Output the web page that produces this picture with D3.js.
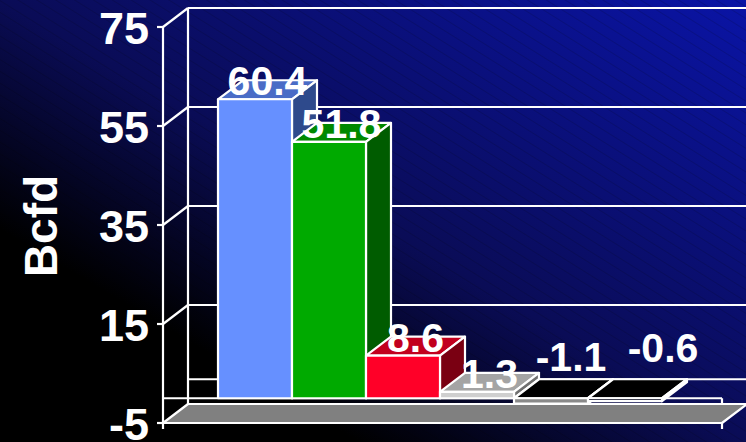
<!DOCTYPE html>
<html><head><meta charset="utf-8">
<script src="https://cdn.jsdelivr.net/npm/d3@7"></script>
<style>html,body{margin:0;padding:0;background:#000;}svg{display:block;}</style>
</head><body>
<script>
// ---- data ----
const categories = ["Series 1", "Series 2", "Series 3", "Series 4", "Series 5", "Series 6"];
const values = [60.4, 51.8, 8.6, 1.3, -1.1, -0.6];
const valueLabels = ["60.4", "51.8", "8.6", "1.3", "-1.1", "-0.6"];
const tickValues = [75, 55, 35, 15, -5];
const tickLabels = ["75", "55", "35", "15", "-5"];
const axisTitle = "Bcfd";

// ---- styles ----
const frontColors = ["#6690FF", "#00AA00", "#FF0028", "#CFCFCF", "#8A8A8A", "#020318"];
const topColors   = ["#4A6CC6", "#008800", "#C2001E", "#A4A4A4", "#000000", "#000000"];
const sideColors  = ["#2E4A8C", "#005C00", "#7A0012", "#707070", "#202020", "#202020"];

const W = 746, H = 442;
const DX = 25, DY = -19;           // 3D depth offset
const X0 = 163, X1 = 722;          // front floor extent
const svg = d3.select("body").append("svg").attr("width", W).attr("height", H);
const defs = svg.append("defs");

const grad = defs.append("linearGradient").attr("id", "bg")
  .attr("gradientUnits", "userSpaceOnUse")
  .attr("x1", 179).attr("y1", 548).attr("x2", 567).attr("y2", -106);
[[0, "#000000"], [0.24, "#000000"], [0.5, "#0a0c56"], [1, "#0a14a6"]]
  .forEach(([o, c]) => grad.append("stop").attr("offset", o).attr("stop-color", c));

const pat = defs.append("pattern").attr("id", "stripes").attr("patternUnits", "userSpaceOnUse")
  .attr("width", 10).attr("height", 10).attr("patternTransform", "rotate(32)");
pat.append("line").attr("x1", 0).attr("y1", 0).attr("x2", 10).attr("y2", 0)
  .attr("stroke", "#000").attr("stroke-opacity", 0.22).attr("stroke-width", 1.2);

svg.append("rect").attr("width", W).attr("height", H).attr("fill", "url(#bg)");
svg.append("rect").attr("width", W).attr("height", H).attr("fill", "url(#stripes)");

const y = d3.scaleLinear().domain([-5, 75]).range([423, 27]);
const x = d3.scaleBand().domain(categories).range([218, 662]).padding(0);
const bw = x.bandwidth();

const g = svg.append("g").attr("fill", "none").attr("stroke", "#fff").attr("stroke-width", 2.2)
  .attr("stroke-linejoin", "round");

// back wall gridlines (ticks + zero plane)
[75, 55, 35, 15, 0].forEach(v => {
  g.append("line").attr("x1", X0 + DX).attr("x2", W + 2)
    .attr("y1", y(v) + DY).attr("y2", y(v) + DY);
});
// side wall diagonals
[75, 55, 35, 15].forEach(v => {
  g.append("line").attr("x1", X0).attr("y1", y(v)).attr("x2", X0 + DX).attr("y2", y(v) + DY);
});
// back vertical
g.append("line").attr("x1", X0 + DX).attr("x2", X0 + DX).attr("y1", y(75) + DY).attr("y2", y(-5) + DY);

// floor slab at minimum
const yF = y(-5);
g.append("polygon")
  .attr("points", [[X0, yF], [X1, yF], [X1 + DX, yF + DY], [X0 + DX, yF + DY]].map(p => p.join(",")).join(" "))
  .attr("fill", "#808080");
g.append("line").attr("x1", X1).attr("x2", X1).attr("y1", yF).attr("y2", yF + 6);

// zero plane front edge
g.append("line").attr("x1", X0).attr("x2", X1).attr("y1", y(0)).attr("y2", y(0));
g.append("line").attr("x1", X1).attr("x2", X1).attr("y1", y(0)).attr("y2", yF + DY);

// front axis & ticks
g.append("line").attr("x1", X0).attr("x2", X0).attr("y1", y(75)).attr("y2", yF + 6);
tickValues.forEach(v => {
  g.append("line").attr("x1", X0 - 6).attr("x2", X0).attr("y1", y(v)).attr("y2", y(v));
});

// bars
const pts = a => a.map(p => p.join(",")).join(" ");
values.forEach((v, i) => {
  const xl = x(categories[i]), xr = xl + bw;
  const yt = y(Math.max(v, 0)), yb = y(Math.min(v, 0));
  g.append("polygon").attr("points", pts([[xl, yt], [xr, yt], [xr + DX, yt + DY], [xl + DX, yt + DY]]))
    .attr("fill", topColors[i]);
  g.append("polygon").attr("points", pts([[xr, yt], [xr + DX, yt + DY], [xr + DX, yb + DY], [xr, yb]]))
    .attr("fill", sideColors[i]);
  g.append("rect").attr("x", xl).attr("y", yt).attr("width", bw).attr("height", Math.max(yb - yt, 0.5))
    .attr("fill", frontColors[i]);
});

// value labels
const negNudge = { 4: [7.5, -27], 5: [25.5, -36] };
values.forEach((v, i) => {
  const xl = x(categories[i]);
  let lx = xl + bw / 2 + DX / 2, ly = y(Math.max(v, 0)) - 4;
  if (v < 0) { lx += negNudge[i][0]; ly = y(0) + negNudge[i][1]; }
  svg.append("text").attr("x", lx).attr("y", ly).attr("text-anchor", "middle")
    .attr("font-family", "Liberation Sans, Arial, sans-serif").attr("font-weight", "bold")
    .attr("font-size", 41).attr("fill", "#fff").text(valueLabels[i]);
});

// tick labels
tickValues.forEach((v, i) => {
  svg.append("text").attr("x", 149).attr("y", y(v) + 17).attr("text-anchor", "end")
    .attr("font-family", "Liberation Sans, Arial, sans-serif").attr("font-weight", "bold")
    .attr("font-size", 45).attr("fill", "#fff").text(tickLabels[i]);
});

// axis title
svg.append("text").attr("transform", "translate(57,226) rotate(-90)").attr("text-anchor", "middle")
  .attr("font-family", "Liberation Sans, Arial, sans-serif").attr("font-weight", "bold")
  .attr("font-size", 46).attr("fill", "#fff").text(axisTitle);
</script>
</body></html>
